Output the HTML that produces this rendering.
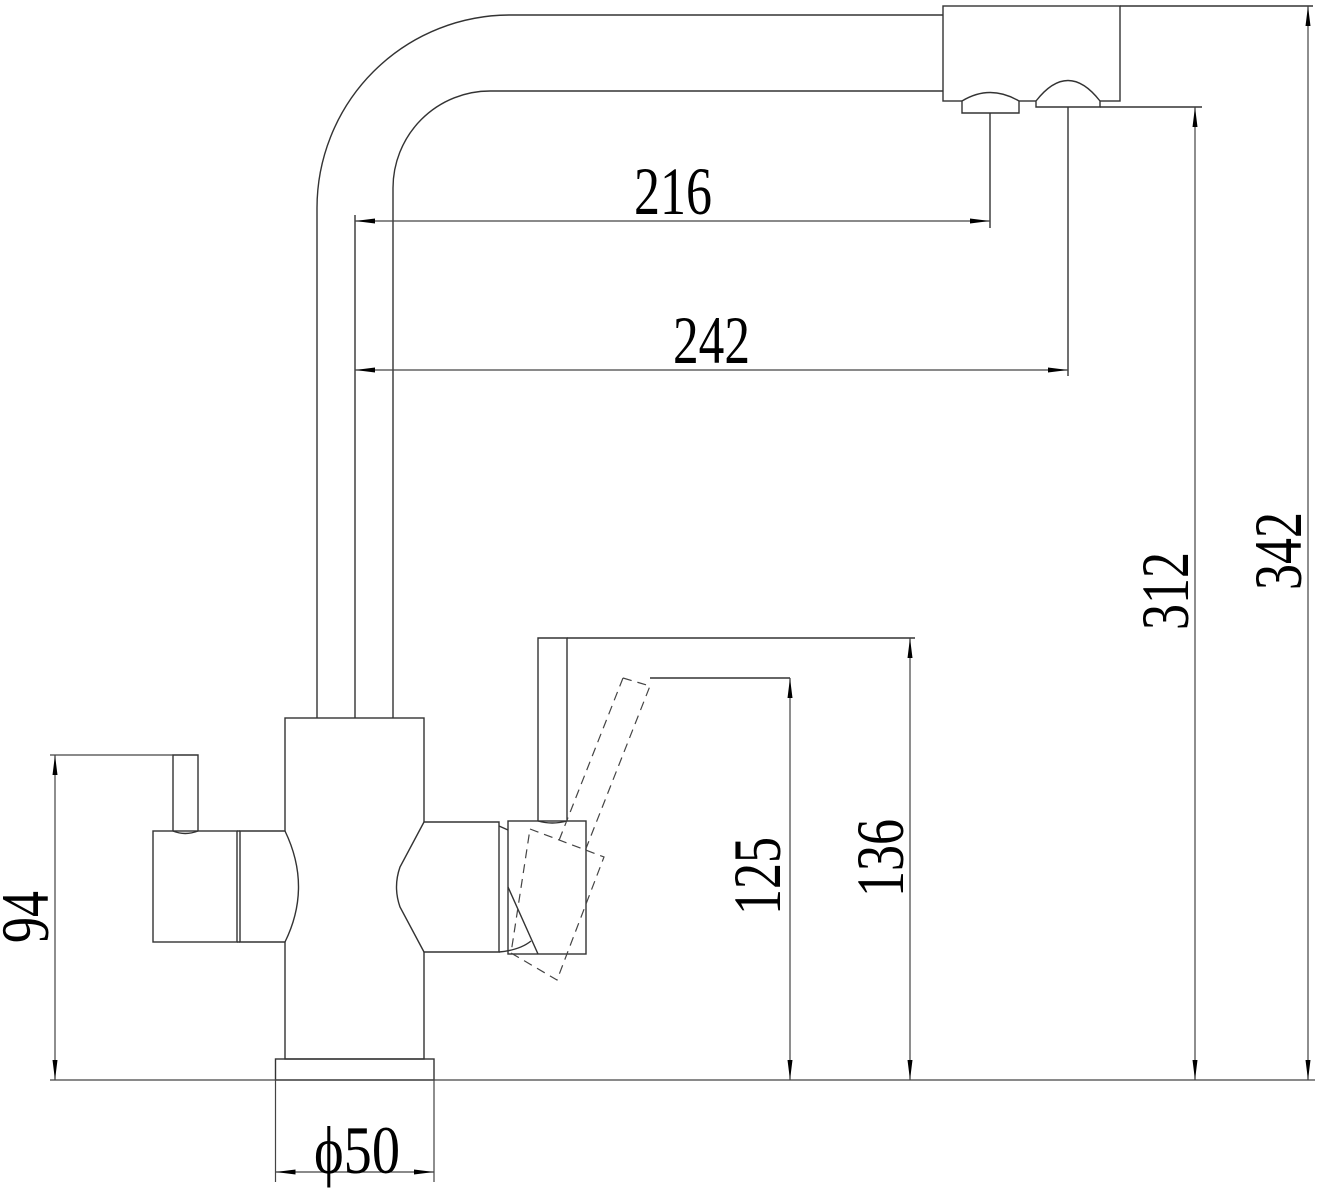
<!DOCTYPE html>
<html><head><meta charset="utf-8"><style>html,body{margin:0;padding:0;background:#fff}svg{display:block}</style></head>
<body>
<svg width="1320" height="1192" viewBox="0 0 1320 1192" xmlns="http://www.w3.org/2000/svg">
<defs>
<marker id="a" viewBox="0 0 20 6" refX="20" refY="3" markerWidth="20" markerHeight="6" markerUnits="userSpaceOnUse" orient="auto-start-reverse"><path d="M0,0.5 L20,3 L0,5.5 Z" fill="#000"/></marker>
</defs>
<g fill="none" stroke="#333" stroke-width="1.4">
<path d="M317,718 L317,208 A193,193 0 0 1 510,15 L943,15"/>
<path d="M393,718 L393,188 A97,97 0 0 1 490,91 L943,91"/>
<path d="M355,718 L355,215"/>
<rect x="943" y="6" width="177" height="95"/>
<path d="M1120,6 L1313,6"/>
<path d="M962,101 Q990,84 1019,101 L1019,113 L962,113 Z" fill="#fff"/>
<path d="M1036,101 Q1068,60 1100,101 L1100,107 L1036,107 Z" fill="#fff"/>
<path d="M1100,107 L1202,107"/>
<path d="M990,113 L990,228"/>
<path d="M1068,107 L1068,376"/>
<rect x="285" y="718" width="139" height="341"/>
<rect x="275.5" y="1059" width="158.5" height="21"/>
<rect x="153" y="831" width="84" height="111"/>
<path d="M240,831 L285,831 Q312,887 285,942 L240,942 Z" fill="#fff"/>
<path d="M237,831 L240,831 M237,942 L240,942"/>
<path d="M173,831 L173,755 L198,755 L198,831"/>
<path d="M173,831 Q185,836 198,831"/>
<path d="M424,822 L499,822 L499,952 L424,952 L400,907 Q393,887 400,867 Z" fill="#fff"/>
<path d="M499,826 L508,830"/>
<path d="M499,952 Q520,950 531,941"/>
<rect x="508" y="821" width="78" height="133"/>
<path d="M508,887 L538,954"/>
<path d="M538,821 L538,638 L567,638 L567,821"/>
<path d="M538,821 Q552,825 567,821"/>
<path d="M567,638 L915,638"/>
<path d="M650,678 L790,678"/>
</g>
<g fill="none" stroke="#444" stroke-width="1.2" stroke-dasharray="9,6">
<path d="M623,678 L650,686 L585,851"/>
<path d="M623,678 L558,843"/>
<path d="M530,829 L604,857 L557,980 L511,953 Z"/>
</g>
<g fill="none" stroke="#444" stroke-width="1.2">
<path d="M50,1080 L1315,1080"/>
<path d="M50,755 L173,755"/>
<path d="M275.5,1080 L275.5,1182 M434,1080 L434,1182"/>
<path d="M355,221 L990,221" marker-start="url(#a)" marker-end="url(#a)"/>
<path d="M355,370 L1068,370" marker-start="url(#a)" marker-end="url(#a)"/>
<path d="M1195,1080 L1195,107" marker-start="url(#a)" marker-end="url(#a)"/>
<path d="M1308,1080 L1308,6" marker-start="url(#a)" marker-end="url(#a)"/>
<path d="M910,1080 L910,638" marker-start="url(#a)" marker-end="url(#a)"/>
<path d="M790,1080 L790,678" marker-start="url(#a)" marker-end="url(#a)"/>
<path d="M55,1080 L55,755" marker-start="url(#a)" marker-end="url(#a)"/>
<path d="M275.5,1172 L434,1172" marker-start="url(#a)" marker-end="url(#a)"/>
</g>
<g font-family="Liberation Serif, serif" font-size="68" fill="#000">
<text x="634" y="214" textLength="78" lengthAdjust="spacingAndGlyphs">216</text>
<text x="673" y="363" textLength="77" lengthAdjust="spacingAndGlyphs">242</text>
<text transform="translate(1188,630) rotate(-90)" textLength="78" lengthAdjust="spacingAndGlyphs">312</text>
<text transform="translate(1301,590) rotate(-90)" textLength="78" lengthAdjust="spacingAndGlyphs">342</text>
<text transform="translate(903,897) rotate(-90)" textLength="78" lengthAdjust="spacingAndGlyphs">136</text>
<text transform="translate(780,915) rotate(-90)" textLength="78" lengthAdjust="spacingAndGlyphs">125</text>
<text transform="translate(48,943) rotate(-90)" textLength="52" lengthAdjust="spacingAndGlyphs">94</text>
<text x="314" y="1173" textLength="86" lengthAdjust="spacingAndGlyphs">ϕ50</text>
</g>
</svg>
</body></html>
